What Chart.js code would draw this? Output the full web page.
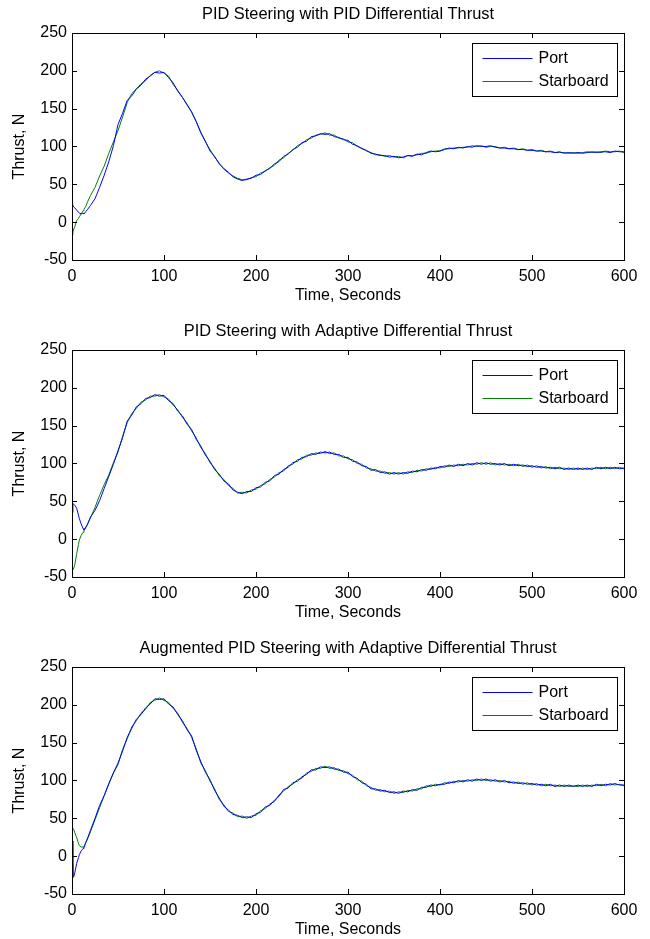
<!DOCTYPE html>
<html><head><meta charset="utf-8">
<script src="https://cdn.jsdelivr.net/npm/chart.js@4/dist/chart.umd.min.js"></script>
<style>
body{margin:0;background:#fff;width:650px;height:939px;position:relative;overflow:hidden}
canvas{position:absolute;left:0}
</style>
</head><body>
<canvas id="c1" width="650" height="305" style="top:0px"></canvas>
<canvas id="c2" width="650" height="305" style="top:317px"></canvas>
<canvas id="c3" width="650" height="305" style="top:634px"></canvas>
<script>
// ---- data ----
const titles = [
  'PID Steering with PID Differential Thrust',
  'PID Steering with Adaptive Differential Thrust',
  'Augmented PID Steering with Adaptive Differential Thrust'
];
const seriesLabels = ['Port', 'Starboard'];
const xTicks = [0, 100, 200, 300, 400, 500, 600];
const yTicks = [-50, 0, 50, 100, 150, 200, 250];
const xTitle = 'Time, Seconds';
const yTitle = 'Thrust, N';

const times = [
  0, 5, 10, 15, 20, 25, 30, 35, 40, 45,
  50, 55, 60, 65, 70, 75, 80, 85, 90, 95,
  100, 105, 110, 115, 120, 125, 130, 135, 140, 145,
  150, 155, 160, 165, 170, 175, 180, 185, 190, 195,
  200, 205, 210, 215, 220, 225, 230, 235, 240, 245,
  250, 255, 260, 265, 270, 275, 280, 285, 290, 295,
  300, 305, 310, 315, 320, 325, 330, 335, 340, 345,
  350, 355, 360, 365, 370, 375, 380, 385, 390, 395,
  400, 405, 410, 415, 420, 425, 430, 435, 440, 445,
  450, 455, 460, 465, 470, 475, 480, 485, 490, 495,
  500, 505, 510, 515, 520, 525, 530, 535, 540, 545,
  550, 555, 560, 565, 570, 575, 580, 585, 590, 595,
  600
];
const earlyTimes = [1, 2, 3, 7, 8, 12, 13, 17];

// Plot 1
const p1Port = [
  23, 16, 11, 14, 22, 31, 46, 62, 80, 101,
  129, 144, 161, 167, 176, 181, 189, 193, 198, 197,
  198, 191, 184, 173, 165, 155, 146, 133, 118, 107,
  94, 87, 77, 71, 66, 60, 57, 55, 57, 58,
  62, 63, 68, 71, 77, 80, 87, 90, 96, 99,
  105, 107, 113, 114, 117, 116, 117, 113, 112, 109,
  108, 103, 101, 97, 95, 91, 90, 88, 88, 86,
  87, 85, 86, 88, 87, 90, 89, 92, 94, 93,
  94, 96, 98, 97, 99, 98, 100, 99, 101, 100,
  100, 101, 99, 98, 98, 97, 97, 96, 96, 95,
  95, 94, 94, 93, 93, 92, 93, 91, 92, 91,
  92, 91, 92, 93, 92, 93, 93, 92, 94, 93,
  93
];
const p1PortEarly = [22, 20, 19, 13, 12, 12, 11, 17];
const p1Stbd = [
  -17, 2, 11, 21, 35, 46, 61, 74, 91, 106,
  121, 139, 158, 170, 176, 183, 187, 194, 198, 200,
  197, 193, 182, 174, 165, 156, 145, 133, 119, 106,
  96, 86, 78, 70, 65, 61, 58, 56, 56, 59,
  60, 65, 67, 72, 75, 82, 85, 91, 95, 101,
  104, 109, 111, 115, 116, 118, 115, 115, 111, 110,
  106, 105, 100, 98, 94, 92, 89, 89, 87, 88,
  86, 87, 85, 88, 88, 89, 91, 91, 93, 94,
  94, 97, 97, 98, 98, 99, 99, 101, 100, 101,
  99, 100, 100, 98, 99, 97, 98, 96, 97, 95,
  96, 94, 95, 93, 94, 92, 92, 92, 91, 92,
  91, 92, 93, 92, 93, 92, 94, 93, 93, 94,
  92
];
const p1StbdEarly = [-13, -9, -6, 5, 7, 15, 17, 27];

// Plot 2
const p2Port = [
  35, 41, 20, 16, 29, 38, 51, 67, 83, 99,
  117, 134, 156, 164, 175, 179, 186, 187, 191, 189,
  190, 183, 179, 169, 163, 152, 145, 132, 123, 111,
  103, 92, 86, 77, 73, 65, 62, 60, 63, 63,
  68, 69, 75, 77, 84, 86, 92, 95, 101, 103,
  108, 109, 113, 112, 115, 114, 115, 112, 112, 108,
  108, 103, 102, 97, 96, 91, 92, 88, 89, 86,
  88, 86, 88, 87, 90, 89, 92, 91, 94, 93,
  96, 95, 98, 96, 99, 97, 100, 98, 101, 99,
  101, 99, 100, 98, 100, 97, 99, 97, 98, 96,
  97, 95, 96, 94, 95, 93, 95, 92, 94, 92,
  94, 92, 94, 92, 95, 93, 95, 93, 95, 93,
  94
];
const p2PortEarly = [47, 46, 45, 32, 27, 14, 12, 20];
const p2Stbd = [
  -38, -20, 5, 15, 28, 42, 58, 72, 85, 101,
  115, 136, 154, 166, 173, 181, 184, 189, 189, 191,
  188, 185, 177, 171, 161, 154, 143, 134, 121, 113,
  101, 94, 84, 79, 71, 67, 61, 62, 61, 65,
  66, 71, 73, 79, 82, 88, 90, 97, 99, 105,
  106, 111, 111, 114, 113, 116, 113, 114, 110, 110,
  106, 105, 100, 99, 94, 93, 90, 90, 87, 88,
  86, 88, 86, 89, 88, 91, 90, 93, 92, 95,
  94, 97, 96, 98, 97, 99, 98, 100, 99, 101,
  99, 101, 98, 100, 98, 99, 97, 99, 96, 98,
  95, 97, 94, 96, 93, 95, 93, 94, 92, 94,
  92, 94, 92, 94, 93, 95, 93, 95, 93, 95,
  93
];
const p2StbdEarly = [-40, -38, -34, -7, -1, 9, 11, 20];

// Plot 3
const p3Port = [
  20, -10, 7, 18, 34, 50, 67, 80, 96, 110,
  123, 139, 157, 169, 181, 187, 196, 201, 208, 207,
  208, 201, 197, 187, 179, 167, 159, 140, 125, 111,
  101, 87, 77, 66, 61, 55, 54, 51, 52, 51,
  56, 58, 65, 67, 74, 79, 88, 90, 97, 99,
  105, 108, 114, 114, 118, 117, 118, 115, 115, 111,
  111, 105, 103, 97, 95, 89, 89, 86, 87, 84,
  85, 83, 86, 85, 88, 87, 91, 91, 94, 93,
  95, 95, 98, 97, 100, 98, 101, 99, 102, 100,
  102, 99, 101, 98, 100, 97, 98, 96, 97, 95,
  96, 94, 95, 93, 95, 92, 94, 92, 94, 92,
  94, 92, 94, 92, 95, 93, 95, 94, 96, 94,
  94
];
const p3PortEarly = [-28, -27, -22, -2, 2, 10, 11, 24];
const p3Stbd = [
  37, 25, 12, 18, 32, 48, 64, 80, 95, 110,
  121, 141, 155, 171, 179, 189, 194, 203, 206, 209,
  206, 203, 195, 189, 177, 169, 157, 142, 123, 113,
  99, 89, 75, 68, 59, 57, 52, 53, 50, 53,
  54, 60, 63, 69, 72, 81, 86, 92, 95, 101,
  103, 110, 112, 116, 116, 119, 116, 117, 113, 113,
  109, 107, 101, 99, 93, 91, 87, 88, 85, 86,
  83, 85, 84, 87, 86, 89, 89, 93, 92, 95,
  94, 97, 96, 99, 98, 100, 99, 101, 100, 102,
  100, 101, 99, 100, 98, 99, 96, 98, 95, 97,
  94, 96, 93, 95, 93, 94, 92, 94, 92, 93,
  92, 94, 92, 94, 93, 95, 93, 96, 94, 95,
  93
];
const p3StbdEarly = [36, 35, 31, 17, 14, 12, 13, 23];

// ---- rendering ----
const FONT = "'Liberation Sans', Arial, Helvetica, sans-serif";
Chart.defaults.font.family = FONT;
Chart.defaults.color = '#000';

function merge(main, early) {
  const pts = times.map((t, i) => ({x: t, y: main[i]}))
    .concat(earlyTimes.map((t, i) => ({x: t, y: early[i]})));
  pts.sort((a, b) => a.x - b.x);
  return pts;
}

const boxPlugin = {
  id: 'matlabBox',
  afterDatasetsDraw(chart) {
    const {ctx, chartArea, scales} = chart;
    const {left, right, top, bottom} = chartArea;
    const xs = scales.x, ys = scales.y;
    ctx.save();
    ctx.strokeStyle = '#000';
    ctx.lineWidth = 1;
    ctx.beginPath();
    xTicks.forEach(v => {
      const px = Math.round(xs.getPixelForValue(v)) + 0.5;
      ctx.moveTo(px, bottom); ctx.lineTo(px, bottom - 5);
      ctx.moveTo(px, top); ctx.lineTo(px, top + 5);
    });
    yTicks.forEach(v => {
      const py = Math.round(ys.getPixelForValue(v)) + 0.5;
      ctx.moveTo(left, py); ctx.lineTo(left + 5, py);
      ctx.moveTo(right, py); ctx.lineTo(right - 5, py);
    });
    ctx.stroke();
    ctx.strokeRect(Math.round(left) + 0.5, Math.round(top) + 0.5,
                   Math.round(right - left), Math.round(bottom - top));
    // legend
    const lx = Math.round(right) - 152 + 0.5, ly = Math.round(top) + 10 + 0.5;
    const lw = 145, lh = 53;
    ctx.fillStyle = '#fff';
    ctx.fillRect(lx, ly, lw, lh);
    ctx.strokeRect(lx, ly, lw, lh);
    ctx.font = '16px ' + FONT;
    ctx.textBaseline = 'middle';
    ctx.textAlign = 'left';
    chart.data.datasets.forEach((ds, i) => {
      const yy = Math.round(ly + 14 + i * 23) + 0.5;
      ctx.strokeStyle = ds.borderColor;
      ctx.beginPath();
      ctx.moveTo(lx + 10, yy); ctx.lineTo(lx + 60, yy);
      ctx.stroke();
      ctx.fillStyle = '#000';
      ctx.fillText(ds.label, lx + 66, yy);
    });
    ctx.restore();
  }
};

const plots = [
  [p1Port, p1PortEarly, p1Stbd, p1StbdEarly],
  [p2Port, p2PortEarly, p2Stbd, p2StbdEarly],
  [p3Port, p3PortEarly, p3Stbd, p3StbdEarly]
];

plots.forEach((p, k) => {
  new Chart(document.getElementById('c' + (k + 1)), {
    type: 'line',
    data: {
      datasets: [
        {label: seriesLabels[0], data: merge(p[0], p[1]), borderColor: '#0000ff',
         borderWidth: 1, pointRadius: 0, tension: 0, fill: false},
        {label: seriesLabels[1], data: merge(p[2], p[3]), borderColor: '#008000',
         borderWidth: 1, pointRadius: 0, tension: 0, fill: false}
      ]
    },
    options: {
      responsive: false,
      maintainAspectRatio: false,
      animation: false,
      devicePixelRatio: 1,
      layout: {padding: {left: 0, right: 26, top: 0, bottom: 0}},
      plugins: {
        legend: {display: false},
        tooltip: {enabled: false},
        title: {display: true, fullSize: false, text: titles[k], color: '#000',
                font: {size: 16.4, weight: 'normal', family: FONT},
                padding: {top: 5, bottom: 8.3}}
      },
      scales: {
        x: {
          type: 'linear', min: 0, max: 600,
          grid: {display: false, drawTicks: false, tickLength: 0}, border: {display: false},
          ticks: {stepSize: 100, padding: 7, maxRotation: 0, color: '#000',
                  font: {size: 16, family: FONT}},
          title: {display: true, text: xTitle, color: '#000',
                  font: {size: 16, family: FONT}, padding: {top: 0, bottom: 0}},
          afterFit(s) { s.height = 45; }
        },
        y: {
          type: 'linear', min: -50, max: 250,
          grid: {display: false, drawTicks: false, tickLength: 0}, border: {display: false},
          ticks: {stepSize: 50, padding: 5, color: '#000',
                  font: {size: 16, family: FONT}},
          title: {display: true, text: yTitle, color: '#000',
                  font: {size: 16, family: FONT}, padding: {top: 10.4, bottom: 0}},
          afterFit(s) { s.width = 72; }
        }
      }
    },
    plugins: [boxPlugin]
  });
});
</script>
</body></html>
